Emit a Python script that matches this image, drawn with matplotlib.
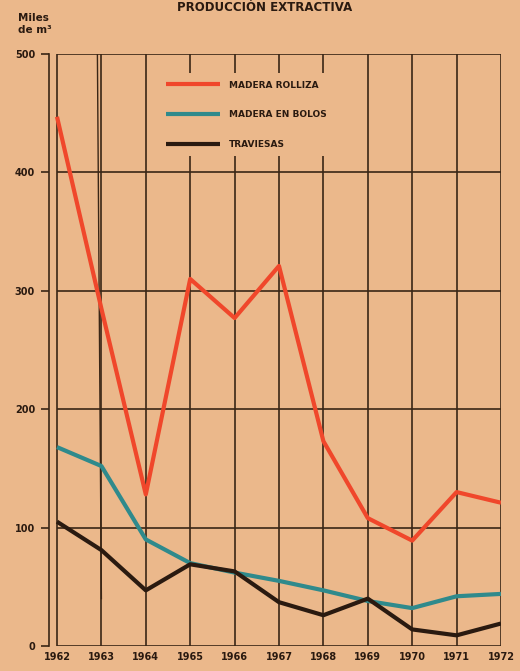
import matplotlib
matplotlib.use("Agg")
import matplotlib.pyplot as plt

years = [1962, 1963, 1964, 1965, 1966, 1967, 1968, 1969, 1970, 1971, 1972]
madera_rolliza = [447, 285, 128, 310, 277, 321, 173, 108, 89, 130, 121]
madera_bolos = [168, 152, 90, 70, 62, 55, 47, 38, 32, 42, 44]
traviesas = [105, 81, 47, 69, 63, 37, 26, 40, 14, 9, 19]
y_ticks = [0, 100, 200, 300, 400, 500]
series_labels = ["MADERA ROLLIZA", "MADERA EN BOLOS", "TRAVIESAS"]

bg = "#EBB88B"
grid_c = "#3A2616"
red = "#F0472B"
teal = "#2F8A8C"
black = "#2A1A10"
txt_c = "#2A1A10"

plt.rcParams['font.family'] = ['DejaVu Sans']

fig = plt.figure(figsize=(5.2, 6.71), dpi=100, facecolor=bg)
ax = fig.add_axes([49/520, 25/671, 452/520, 592/671], facecolor=bg)

ax.set_xlim(1961.82, 1972.0)
ax.set_ylim(0, 500)

# grid box
ax.vlines(years, 0, 500, color=grid_c, lw=1.2, zorder=1)
ax.hlines(y_ticks, years[0], years[-1], color=grid_c, lw=1.2, zorder=1)
ax.plot([1962.91, 1963.0], [500, 40], color=grid_c, lw=1.0, zorder=1)

# data
for vals, col, lab in [(madera_rolliza, red, series_labels[0]),
                       (madera_bolos, teal, series_labels[1]),
                       (traviesas, black, series_labels[2])]:
    ax.plot(years, vals, color=col, lw=3.0, label=lab, zorder=3,
            solid_joinstyle='round', solid_capstyle='butt')

for s in ['top', 'right', 'bottom']:
    ax.spines[s].set_visible(False)
ax.spines['left'].set_color(grid_c)
ax.spines['left'].set_linewidth(1.2)

ax.set_yticks(y_ticks)
ax.set_yticklabels([str(v) for v in y_ticks], fontsize=7, fontweight='bold', color=txt_c)
ax.tick_params(axis='y', direction='out', length=6, width=1.2, color=grid_c, pad=4)
ax.set_xticks(years)
ax.set_xticklabels([str(y) for y in years], fontsize=7, fontweight='bold', color=txt_c)
ax.tick_params(axis='x', length=0, pad=4)

leg = ax.legend(loc='upper left', bbox_to_anchor=(0.232, 0.975), frameon=True,
                facecolor=bg, edgecolor='none', framealpha=1.0,
                prop={'size': 6.5, 'weight': 'bold'}, handlelength=6.0,
                handletextpad=1.0, labelspacing=2.3, borderpad=0.8,
                fancybox=False)
for t in leg.get_texts():
    t.set_color(txt_c)
leg.set_zorder(5)

fig.text(18/520, 1 - 24/671, "Miles\nde m³", fontsize=7.5, fontweight='bold',
         color=txt_c, ha='left', va='center', linespacing=1.3)
fig.text(265/520, 1 - 1/671, "PRODUCCIÓN EXTRACTIVA", fontsize=8.5, fontweight='bold',
         color=txt_c, ha='center', va='top')

fig.savefig("out.png", dpi=100, facecolor=bg)
